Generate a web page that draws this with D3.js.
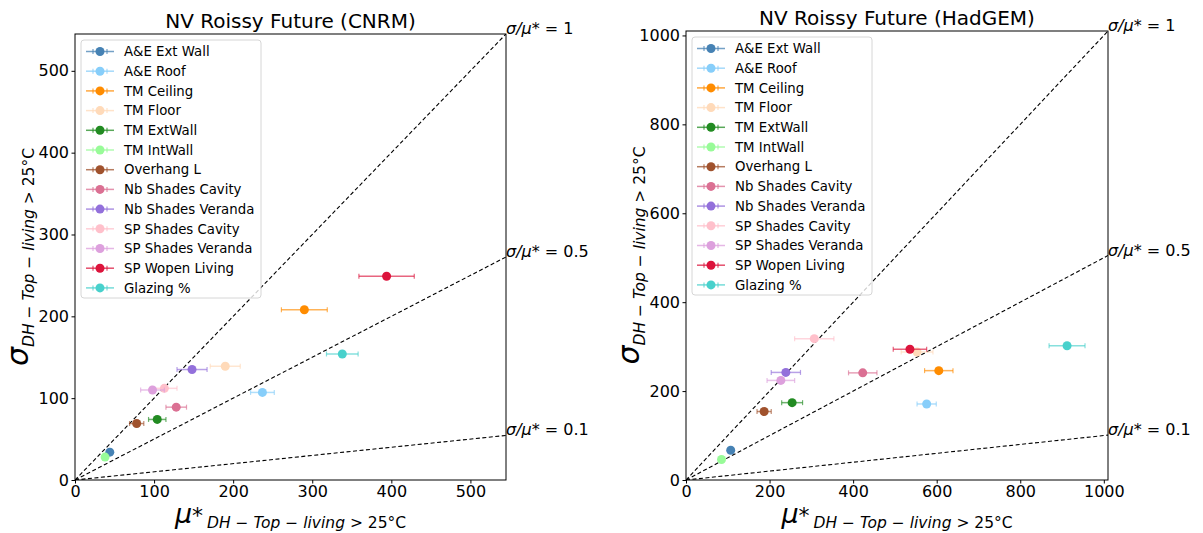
<!DOCTYPE html>
<html>
<head>
<meta charset="utf-8">
<script src="https://cdn.jsdelivr.net/npm/d3@7"></script>
<style>
  html, body { margin: 0; padding: 0; background: #fff; }
  svg { display: block; font-family: "DejaVu Sans", sans-serif; }
</style>
</head>
<body>
<svg id="chart" width="1203" height="533"></svg>
<script>
const categories = ["A&E Ext Wall","A&E Roof","TM Ceiling","TM Floor","TM ExtWall","TM IntWall","Overhang L","Nb Shades Cavity","Nb Shades Veranda","SP Shades Cavity","SP Shades Veranda","SP Wopen Living","Glazing %"];
const colors = ["#4682b4","#87cefa","#ff8c00","#ffdab9","#228b22","#98fb98","#a0522d","#db7093","#9370db","#ffc0cb","#dda0dd","#dc143c","#48d1cc"];

// CNRM panel
const cnrmMuStar = [44, 237, 290, 190, 104, 38, 78, 128, 148, 113, 98, 394, 338];
const cnrmSigma  = [34, 107, 208, 139, 74, 28, 69, 89, 135, 112, 110, 249, 154];
const cnrmMuConf = [3, 15, 29, 19, 11, 3, 9, 13, 19, 16, 15, 35, 20];

// HadGEM panel
const hadMuStar = [107, 576, 605, 553, 254, 85, 187, 423, 239, 307, 227, 536, 912];
const hadSigma  = [67, 171, 246, 288, 174, 46, 154, 241, 242, 318, 224, 294, 302];
const hadMuConf = [4, 23, 34, 38, 25, 4, 17, 34, 35, 47, 33, 40, 43];

const cnrmTicks = [0, 100, 200, 300, 400, 500];
const hadTicks = [0, 200, 400, 600, 800, 1000];
const ratios = [1, 0.5, 0.1];
const ratioLabels = ["1", "0.5", "0.1"];

const svg = d3.select("#chart");

function panel(cfg) {
  const {x0, x1, y0, y1, max, ticks, title, mu, sigma, conf} = cfg;
  const x = d3.scaleLinear().domain([0, max]).range([x0, x1]);
  const y = d3.scaleLinear().domain([0, max]).range([y1, y0]);
  const g = svg.append("g");
  const clipId = "clip" + x0;
  svg.append("clipPath").attr("id", clipId).append("rect")
    .attr("x", x0).attr("y", y0).attr("width", x1 - x0).attr("height", y1 - y0);

  // ratio lines
  const lines = g.append("g").attr("clip-path", `url(#${clipId})`);
  ratios.forEach(r => {
    lines.append("line")
      .attr("x1", x(0)).attr("y1", y(0))
      .attr("x2", x(max)).attr("y2", y(r * max))
      .attr("stroke", "#000").attr("stroke-width", 1.1)
      .attr("stroke-dasharray", "4,2.5");
  });

  // data
  const pts = g.append("g").attr("clip-path", `url(#${clipId})`);
  categories.forEach((c, i) => {
    const gg = pts.append("g");
    const cy = y(sigma[i]);
    const xl = x(mu[i] - conf[i]), xr = x(mu[i] + conf[i]);
    gg.append("line").attr("x1", xl).attr("x2", xr).attr("y1", cy).attr("y2", cy)
      .attr("stroke", colors[i]).attr("stroke-width", 1.5).attr("opacity", 0.65);
    [xl, xr].forEach(xx => gg.append("line").attr("x1", xx).attr("x2", xx)
      .attr("y1", cy - 2.5).attr("y2", cy + 2.5)
      .attr("stroke", colors[i]).attr("stroke-width", 1.2).attr("opacity", 0.65));
    gg.append("circle").attr("cx", x(mu[i])).attr("cy", cy).attr("r", 4.5)
      .attr("fill", colors[i]);
  });

  // frame
  g.append("rect").attr("x", x0).attr("y", y0).attr("width", x1 - x0).attr("height", y1 - y0)
    .attr("fill", "none").attr("stroke", "#000").attr("stroke-width", 1);

  // axes
  const fmt = d3.format("d");
  const xa = g.append("g").attr("transform", `translate(0,${y1})`)
    .call(d3.axisBottom(x).tickValues(ticks).tickFormat(fmt).tickSize(3.5).tickPadding(2.5));
  const ya = g.append("g").attr("transform", `translate(${x0},0)`)
    .call(d3.axisLeft(y).tickValues(ticks).tickFormat(fmt).tickSize(3.5).tickPadding(2.5));
  [xa, ya].forEach(a => {
    a.select(".domain").remove();
    a.selectAll("text").attr("font-size", 16).attr("fill", "#000")
      .attr("font-family", "DejaVu Sans");
    a.selectAll("line").attr("stroke", "#000");
  });

  // ratio labels
  ratios.forEach((r, k) => {
    const t = g.append("text").attr("x", x(max)).attr("y", y(r * max))
      .attr("font-size", 16).attr("fill", "#000");
    t.append("tspan").attr("font-style", "italic").text("σ/μ");
    t.append("tspan").text("* = " + ratioLabels[k]);
  });

  // title
  g.append("text").attr("x", (x0 + x1) / 2).attr("y", y0 - 6)
    .attr("text-anchor", "middle").attr("font-size", 20).text(title);

  // x label
  const xl = g.append("text").attr("x", (x0 + x1) / 2).attr("y", y1 + 43)
    .attr("text-anchor", "middle").attr("fill", "#000");
  xl.append("tspan").attr("font-size", 27).attr("font-style", "italic").text("μ");
  xl.append("tspan").attr("font-size", 22).text("*");
  xl.append("tspan").attr("font-size", 15.5).attr("font-style", "italic").attr("dy", 5).attr("dx", 4).text("DH − Top − living");
  xl.append("tspan").attr("font-size", 15.5).text(" > 25°C");

  // y label
  const yl = g.append("text")
    .attr("transform", `translate(${x0 - 47},${(y0 + y1) / 2}) rotate(-90)`)
    .attr("text-anchor", "middle").attr("fill", "#000");
  yl.append("tspan").attr("font-size", 30).attr("font-style", "italic").text("σ");
  yl.append("tspan").attr("font-size", 15.5).attr("font-style", "italic").attr("dy", 6).text("DH − Top − living");
  yl.append("tspan").attr("font-size", 15.5).text(" > 25°C");

  // legend
  const lx = x0 + 6, ly = y0 + 6;
  const lg = g.append("g");
  lg.append("rect").attr("x", lx).attr("y", ly).attr("width", 180).attr("height", 258)
    .attr("rx", 3).attr("fill", "#fff").attr("fill-opacity", 0.8)
    .attr("stroke", "#d6d6d6").attr("stroke-width", 1);
  categories.forEach((c, i) => {
    const cy = ly + 11.5 + i * 19.7;
    const cx = lx + 19;
    lg.append("line").attr("x1", cx - 14).attr("x2", cx + 14).attr("y1", cy).attr("y2", cy)
      .attr("stroke", colors[i]).attr("stroke-width", 1.5).attr("opacity", 0.75);
    [cx - 7, cx + 7].forEach(xx => lg.append("line").attr("x1", xx).attr("x2", xx)
      .attr("y1", cy - 2.5).attr("y2", cy + 2.5).attr("stroke", colors[i]).attr("stroke-width", 1.2).attr("opacity", 0.75));
    lg.append("circle").attr("cx", cx).attr("cy", cy).attr("r", 4.5).attr("fill", colors[i]);
    lg.append("text").attr("x", lx + 43).attr("y", cy + 4.7).attr("font-size", 13.3).attr("fill", "#000").text(c);
  });
}

panel({x0: 75, x1: 506, y0: 34, y1: 480, max: 545, ticks: cnrmTicks,
  title: "NV Roissy Future (CNRM)", mu: cnrmMuStar, sigma: cnrmSigma, conf: cnrmMuConf});
panel({x0: 686, x1: 1108, y0: 31, y1: 480, max: 1010, ticks: hadTicks,
  title: "NV Roissy Future (HadGEM)", mu: hadMuStar, sigma: hadSigma, conf: hadMuConf});
</script>
</body>
</html>
